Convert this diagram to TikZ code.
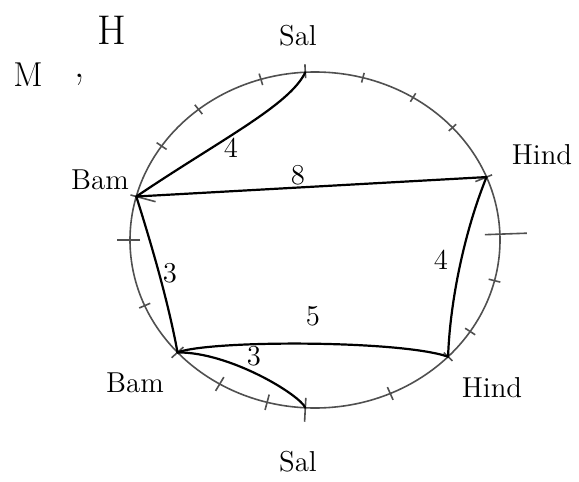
\documentclass[tikz,border=0pt]{standalone}
\usepackage{tikz}
\usetikzlibrary{calc}
\definecolor{rimgrey}{RGB}{80,80,80}

\begin{document}
\begin{tikzpicture}[x=0.5pt, y=-0.5pt, font=\Large,
    chord/.style={line width=1.1pt, black, line cap=round},
    rimtick/.style={line width=0.8pt, rimgrey},
    wt/.style={font=\Large}]
  \useasboundingbox (0,0) rectangle (579,482);
  \coordinate (O) at (315,240);
  \draw[rimgrey, line width=0.8pt] (O) ellipse [x radius=185, y radius=168];
  % vertices on the rim: name, angle
  \foreach \n/\a in {bamL/165, salT/93, hindT/22, hindB/-44, salB/-93, bamB/-138}
    \coordinate (\n) at ($(O)+({cos(\a)*185},{-sin(\a)*168})$);
  % ticks: angle, inner, outer
  \foreach \a/\i/\o in {165/20/6, 146/6/6, 129/6/6, 107/6/6, 93/6/8,
                        75/5/5, 58/5/5, 42/5/5, 22/12/6, 2/15/27,
                        -14/6/6, -33/6/6, -44/6/6, -66/7/7, -93/10/14,
                        -105/8/8, -121/8/8, -138/8/8, -157/6/6, 180/10/13} {
    \draw[rimtick] ($(O)+({cos(\a)*(185-\i)},{-sin(\a)*(168-\i)})$)
                -- ($(O)+({cos(\a)*(185+\o)},{-sin(\a)*(168+\o)})$);
  }
  \draw[chord] (bamL) .. controls (220,140) and (290,105) .. (salT);
  \draw[chord] (bamL) -- (hindT);
  \draw[chord] (hindT) .. controls (465,230) and (450,300) .. (hindB);
  \draw[chord] (bamL) .. controls (150,240) and (168,300) .. (bamB);
  \draw[chord] (bamB) .. controls (210,340) and (400,340) .. (hindB);
  \draw[chord] (bamB) .. controls (230,352) and (300,395) .. (salB);
  % weights
  \node[wt] (wSal) at (231,148) {4};
  \node[wt] (wHind) at (298,175) {8};
  \node[wt] (wRight) at (441,260) {4};
  \node[wt] (wLeft) at (170,273) {3};
  \node[wt] (wLow) at (313,316) {5};
  \node[wt] (wBot) at (254,356) {3};
  % place names
  \node (salTop) at (298,36) {Sal};
  \node (hindTop) at (542,155) {Hind};
  \node (bamTop) at (100,180) {Bam};
  \node (bamBot) at (135,383) {Bam};
  \node (hindBot) at (492,388) {Hind};
  \node (salBot) at (298,462) {Sal};
  \node[font=\LARGE] (mLbl) at (28,75) {M};
  \node[font=\huge] (cLbl) at (80,80) {,};
  \node[font=\huge] (hLbl) at (112,30) {H};
\end{tikzpicture}
\end{document}
